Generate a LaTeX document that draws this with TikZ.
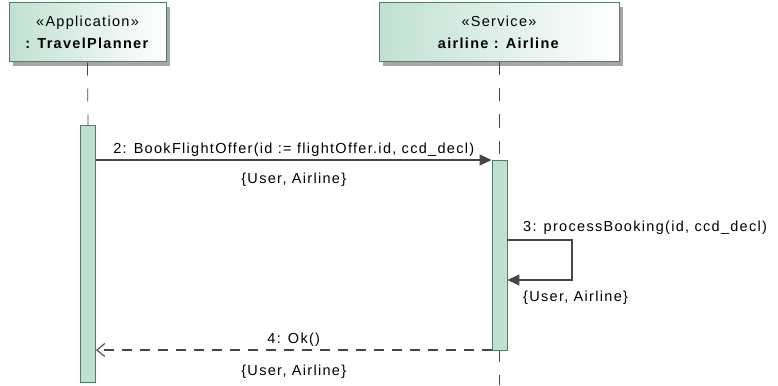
\documentclass[tikz,border=0pt]{standalone}
\usepackage{fontspec}
\setmainfont{Liberation Sans}[LetterSpace=9]
\usetikzlibrary{arrows.meta,shadows}
\definecolor{bord}{RGB}{80,125,105}
\definecolor{act}{RGB}{192,224,210}
\definecolor{hdl}{RGB}{192,224,210}
\definecolor{ln}{RGB}{70,70,70}
\begin{document}
\begin{tikzpicture}[x=1pt,y=-1pt,
  font=\fontsize{14.5}{17}\selectfont,
  headbox/.style={draw=bord,line width=1pt,left color=hdl,right color=white,
    drop shadow={shadow xshift=4pt,shadow yshift=-4pt,fill=black!35,opacity=1},
    align=center,inner sep=0pt},
  actbar/.style={draw=bord,line width=0.9pt,fill=act,inner sep=0pt},
  life/.style={draw=ln,line width=0.8pt,dash pattern=on 13pt off 13pt},
  msg/.style={draw=ln,line width=1.1pt,-{Triangle[length=12pt,width=11pt]}},
  ret/.style={draw=ln,line width=1.1pt,dash pattern=on 10pt off 8pt,-{Straight Barb[length=8pt,width=13pt]}},
  lbl/.style={inner sep=1pt}]
\useasboundingbox (0,0) rectangle (778,385);
% heads
\node[headbox,minimum width=157pt,minimum height=59pt] (h1) at (87.5,32.5)
  {«Application»\\[5pt]\textbf{: TravelPlanner}};
\node[headbox,minimum width=240pt,minimum height=59pt] (h2) at (499,32.5)
  {«Service»\\[5pt]\textbf{airline : Airline}};
% lifelines
\coordinate (e2) at (499,385);
\draw[life] (h1.south) -- (88,125);
\draw[life] (h2.south) -- (e2);
% activation bars
\node[actbar,minimum width=15pt,minimum height=257pt] (a1) at (88,253.5) {};
\node[actbar,minimum width=15pt,minimum height=190pt] (a2) at (499.5,255) {};
% message 2
\coordinate (m2s) at (a1.east |- 0,160);
\coordinate (m2e) at (a2.west |- 0,160);
\draw[msg] (m2s) -- node[lbl,above=2pt] {2: BookFlightOffer(id := flightOffer.id, ccd\_decl)}
  node[lbl,below=11pt] {\{User, Airline\}} (m2e);
% message 3 self
\coordinate (m3s) at (a2.east |- 0,240);
\coordinate (m3e) at (a2.east |- 0,280);
\draw[msg] (m3s) -- (572,240) -- (572,280) -- (m3e);
\node[lbl,anchor=south west] (l3) at (522,236) {3: processBooking(id, ccd\_decl)};
\node[lbl,anchor=north west] (l3b) at (522,290) {\{User, Airline\}};
% message 4
\coordinate (m4s) at (a2.west |- 0,350);
\coordinate (m4e) at (a1.east |- 0,350);
\draw[ret] (m4s) -- node[lbl,above=2pt,pos=0.5] {4: Ok()}
  node[lbl,below=13pt] {\{User, Airline\}} (m4e);
\end{tikzpicture}
\end{document}
